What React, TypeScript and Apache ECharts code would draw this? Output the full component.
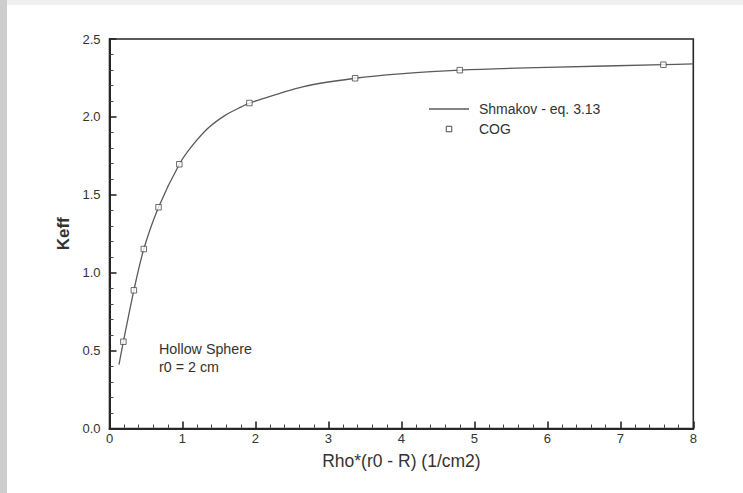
import React, { useEffect, useRef } from "react";
import * as echarts from "echarts";

// Shmakov eq. 3.13 curve
const curveX = [0.13, 0.19, 0.334, 0.47, 0.672, 0.957, 1.129, 1.356, 1.585, 1.814, 1.917, 2.66, 3.366, 3.98, 4.8, 6.0, 7.59, 8.0];
const curveY = [0.41, 0.557, 0.887, 1.152, 1.42, 1.696, 1.812, 1.93, 2.01, 2.066, 2.089, 2.195, 2.248, 2.276, 2.3, 2.318, 2.335, 2.34];

// COG points
const cogX = [0.19, 0.334, 0.47, 0.672, 0.957, 1.917, 3.366, 4.8, 7.59];
const cogY = [0.557, 0.887, 1.152, 1.42, 1.696, 2.089, 2.248, 2.3, 2.335];

const seriesNames = ["Shmakov - eq. 3.13", "COG"];
const noteLines = ["Hollow Sphere", "r0 = 2 cm"];
const xTitle = "Rho*(r0 - R) (1/cm2)";
const yTitle = "Keff";

const FONT = "'Liberation Sans', Arial, Helvetica, sans-serif";
const TXT = "#333333";

export default function App() {
  const ref = useRef<HTMLDivElement>(null);
  useEffect(() => {
    document.body.style.margin = "0";
    const chart = echarts.init(ref.current!, null, { renderer: "svg" });
    const line = curveX.map((x, i) => [x, curveY[i]]);
    const pts = cogX.map((x, i) => [x, cogY[i]]);
    chart.setOption({
      animation: false,
      backgroundColor: "#ffffff",
      textStyle: { fontFamily: FONT },
      grid: {
        left: 109.5,
        right: 49.7,
        top: 39,
        bottom: 64.5,
        show: true,
        borderColor: "#262626",
        borderWidth: 1.6,
        backgroundColor: "transparent",
      },
      xAxis: {
        type: "value",
        min: 0,
        max: 8,
        interval: 1,
        name: xTitle,
        nameLocation: "middle",
        nameGap: 23,
        nameTextStyle: { fontSize: 17.5, color: TXT, fontFamily: FONT },
        axisLine: { show: true, lineStyle: { color: "#262626", width: 2 } },
        axisTick: { show: true, inside: true, length: 7, lineStyle: { color: "#262626", width: 1.6 } },
        minorTick: { show: true, splitNumber: 5, length: 4, lineStyle: { color: "#444", width: 1 } },
        axisLabel: { fontSize: 13, color: TXT, margin: 3, fontFamily: FONT },
        splitLine: { show: false },
      },
      yAxis: {
        type: "value",
        min: 0,
        max: 2.5,
        interval: 0.5,
        name: yTitle,
        nameLocation: "middle",
        nameGap: 36,
        nameTextStyle: { fontSize: 17, color: TXT, fontWeight: "bold", fontFamily: FONT },
        axisLine: { show: true, lineStyle: { color: "#262626", width: 2 } },
        axisTick: { show: true, inside: true, length: 7, lineStyle: { color: "#262626", width: 1.6 } },
        minorTick: { show: true, splitNumber: 5, length: 4, lineStyle: { color: "#444", width: 1 } },
        axisLabel: {
          fontSize: 13,
          color: TXT,
          margin: 9,
          fontFamily: FONT,
          formatter: (v: number) => v.toFixed(1),
        },
        splitLine: { show: false },
      },
      series: [
        {
          name: seriesNames[0],
          type: "line",
          data: line,
          smooth: 0.3,
          showSymbol: false,
          symbol: "none",
          lineStyle: { color: "#5a5a5a", width: 1.3 },
          z: 2,
        },
        {
          name: seriesNames[1],
          type: "scatter",
          data: pts,
          symbol: "rect",
          symbolSize: 5.5,
          itemStyle: { color: "#ffffff", borderColor: "#4a4a4a", borderWidth: 1 },
          z: 3,
        },
      ],
      graphic: [
        { type: "rect", shape: { x: 0, y: 0, width: 743, height: 5 }, style: { fill: "#efefef" }, z: -10 },
        { type: "rect", shape: { x: 0, y: 0, width: 7, height: 493 }, style: { fill: "#cdcdcd" }, z: -9 },
        { type: "line", shape: { x1: 429, y1: 109, x2: 469, y2: 109 }, style: { stroke: "#5a5a5a", lineWidth: 1.3 } },
        {
          type: "rect",
          shape: { x: 446.25, y: 126.25, width: 5.5, height: 5.5 },
          style: { fill: "#ffffff", stroke: "#4a4a4a", lineWidth: 1 },
        },
        {
          type: "text",
          x: 479,
          y: 109,
          style: { text: seriesNames[0], fontSize: 14, fill: TXT, fontFamily: FONT, verticalAlign: "middle" },
        },
        {
          type: "text",
          x: 479,
          y: 129,
          style: { text: seriesNames[1], fontSize: 14, fill: TXT, fontFamily: FONT, verticalAlign: "middle" },
        },
        {
          type: "text",
          x: 159,
          y: 349,
          style: { text: noteLines[0], fontSize: 14.3, fill: TXT, fontFamily: FONT, verticalAlign: "middle" },
        },
        {
          type: "text",
          x: 159,
          y: 367,
          style: { text: noteLines[1], fontSize: 14.3, fill: TXT, fontFamily: FONT, verticalAlign: "middle" },
        },
      ],
    });
    return () => chart.dispose();
  }, []);
  return <div ref={ref} style={{ width: 743, height: 493 }} />;
}
